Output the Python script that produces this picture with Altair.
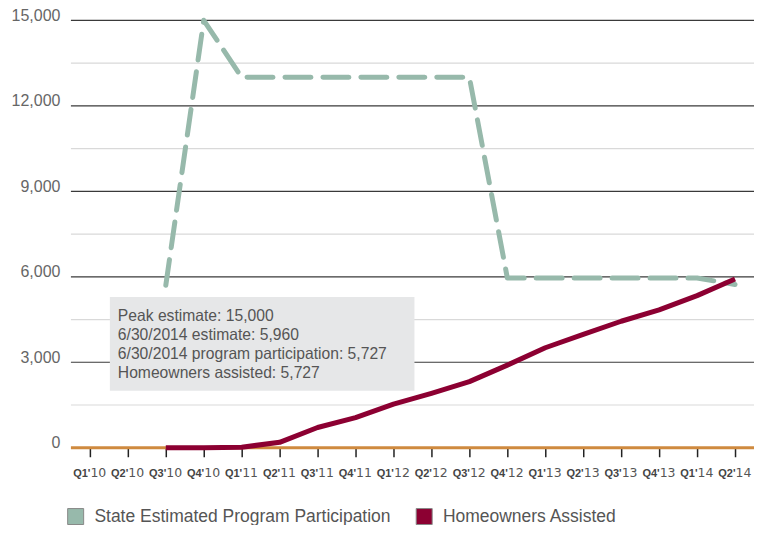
import altair as alt
import pandas as pd

# ---------------- data ----------------
quarters = ["Q1'10", "Q2'10", "Q3'10", "Q4'10",
            "Q1'11", "Q2'11", "Q3'11", "Q4'11",
            "Q1'12", "Q2'12", "Q3'12", "Q4'12",
            "Q1'13", "Q2'13", "Q3'13", "Q4'13",
            "Q1'14", "Q2'14"]
q_part = [q[:3] for q in quarters]
yr_part = [q[3:] for q in quarters]

series_quarters = quarters[2:]  # Q3'10 .. Q2'14
state_estimate = [5700, 15000, 13000, 13000, 13000, 13000, 13000, 13000, 13000,
                  5960, 5960, 5960, 5960, 5960, 5960, 5727]
homeowners_assisted = [0, 0, 20, 190, 710, 1060, 1530, 1910, 2320,
                       2900, 3510, 3980, 4440, 4840, 5340, 5920]

series_names = ["State Estimated Program Participation", "Homeowners Assisted"]
series_colors = ["#97B9AB", "#8C0032"]

y_ticks = [0, 3000, 6000, 9000, 12000, 15000]
grid_major = [3000, 6000, 9000, 12000, 15000]
grid_minor = [1500, 4500, 7500, 10500, 13500]

annotation_lines = ["Peak estimate: 15,000",
                    "6/30/2014 estimate: 5,960",
                    "6/30/2014 program participation: 5,727",
                    "Homeowners assisted: 5,727"]

# ---------------- tables ----------------
est_df = pd.DataFrame({"quarter": series_quarters, "value": state_estimate})
ho_df = pd.DataFrame({"quarter": series_quarters, "value": homeowners_assisted})
lab_df = pd.DataFrame({"quarter": quarters, "qp": q_part, "yr": yr_part})
major_df = pd.DataFrame({"v": grid_major})
minor_df = pd.DataFrame({"v": grid_minor})
zero_df = pd.DataFrame({"v": [0]})
leg_df = pd.DataFrame({"series": series_names})
ann_df = pd.DataFrame({"t": ["\n".join(annotation_lines)]})

W, H = 684, 428
xscale = alt.Scale(domain=quarters, type="point", padding=0.5)
yscale = alt.Scale(domain=[0, 15000], nice=False, zero=True)

FONT = "Liberation Sans, Arial, sans-serif"

x_axis = alt.Axis(labels=False, ticks=True, tickColor="#222", tickSize=9, tickWidth=1.5,
                  domain=False, grid=False, title=None)
y_axis = alt.Axis(values=y_ticks, format=",.0f", labelFont=FONT, labelFontSize=16,
                  labelColor="#666", labelBaseline="alphabetic", labelPadding=11,
                  ticks=False, domain=False, grid=False, title=None)

minor = alt.Chart(minor_df).mark_rule(color="#D9D9D9", strokeWidth=1.2).encode(
    y=alt.Y("v:Q", scale=yscale, axis=y_axis))
major = alt.Chart(major_df).mark_rule(color="#3A3A3A", strokeWidth=1.2).encode(
    y=alt.Y("v:Q", scale=yscale))

box = alt.Chart(ann_df).mark_rect(color="#E6E7E8").encode(
    x=alt.value(39), x2=alt.value(344), y=alt.value(277), y2=alt.value(371))
ann_text = alt.Chart(ann_df).mark_text(
    align="left", baseline="alphabetic", font=FONT, fontSize=15.7, color="#555",
    lineBreak="\n", lineHeight=19).encode(
    x=alt.value(47), y=alt.value(301), text="t:N")

zero = alt.Chart(zero_df).mark_rule(color="#CF8A3F", strokeWidth=3).encode(
    y=alt.Y("v:Q", scale=yscale))

est_line = alt.Chart(est_df).mark_line(
    color=series_colors[0], strokeWidth=5, strokeDash=[26, 12],
    strokeCap="round", strokeJoin="round").encode(
    x=alt.X("quarter:O", scale=xscale, sort=quarters, axis=x_axis),
    y=alt.Y("value:Q", scale=yscale))

ho_line = alt.Chart(ho_df).mark_line(
    color=series_colors[1], strokeWidth=5, strokeJoin="round").encode(
    x=alt.X("quarter:O", scale=xscale, sort=quarters),
    y=alt.Y("value:Q", scale=yscale))

lab_q = alt.Chart(lab_df).mark_text(
    align="right", baseline="alphabetic", font=FONT, fontWeight="bold",
    fontSize=11, color="#444", dx=0.5).encode(
    x=alt.X("quarter:O", scale=xscale, sort=quarters), y=alt.value(457), text="qp:N")
lab_y = alt.Chart(lab_df).mark_text(
    align="left", baseline="alphabetic", font="DejaVu Sans", fontSize=12.5,
    color="#555", dx=0.5).encode(
    x=alt.X("quarter:O", scale=xscale, sort=quarters), y=alt.value(457), text="yr:N")

legend_layer = alt.Chart(leg_df).transform_filter("false").mark_square(size=1).encode(
    color=alt.Color("series:N",
                    scale=alt.Scale(domain=series_names, range=series_colors),
                    sort=series_names,
                    legend=alt.Legend(
                        orient="none", legendX=-4, legendY=488, direction="horizontal",
                        title=None, symbolType="square", symbolSize=256,
                        symbolStrokeColor="#888", symbolStrokeWidth=1, symbolOpacity=1,
                        labelFont=FONT, labelFontSize=17.5, labelColor="#555",
                        labelOffset=10, columnPadding=22, labelLimit=500)))

chart = alt.layer(minor, major, box, ann_text, zero, est_line, ho_line,
                  lab_q, lab_y, legend_layer).properties(
    width=W, height=H,
    autosize=alt.AutoSizeParams(type="none"),
    padding={"left": 63, "top": 12, "right": 0, "bottom": 77},
    background="white",
).configure_view(stroke=None)

chart.save("out.html", embed_options={"renderer": "svg", "actions": False})
